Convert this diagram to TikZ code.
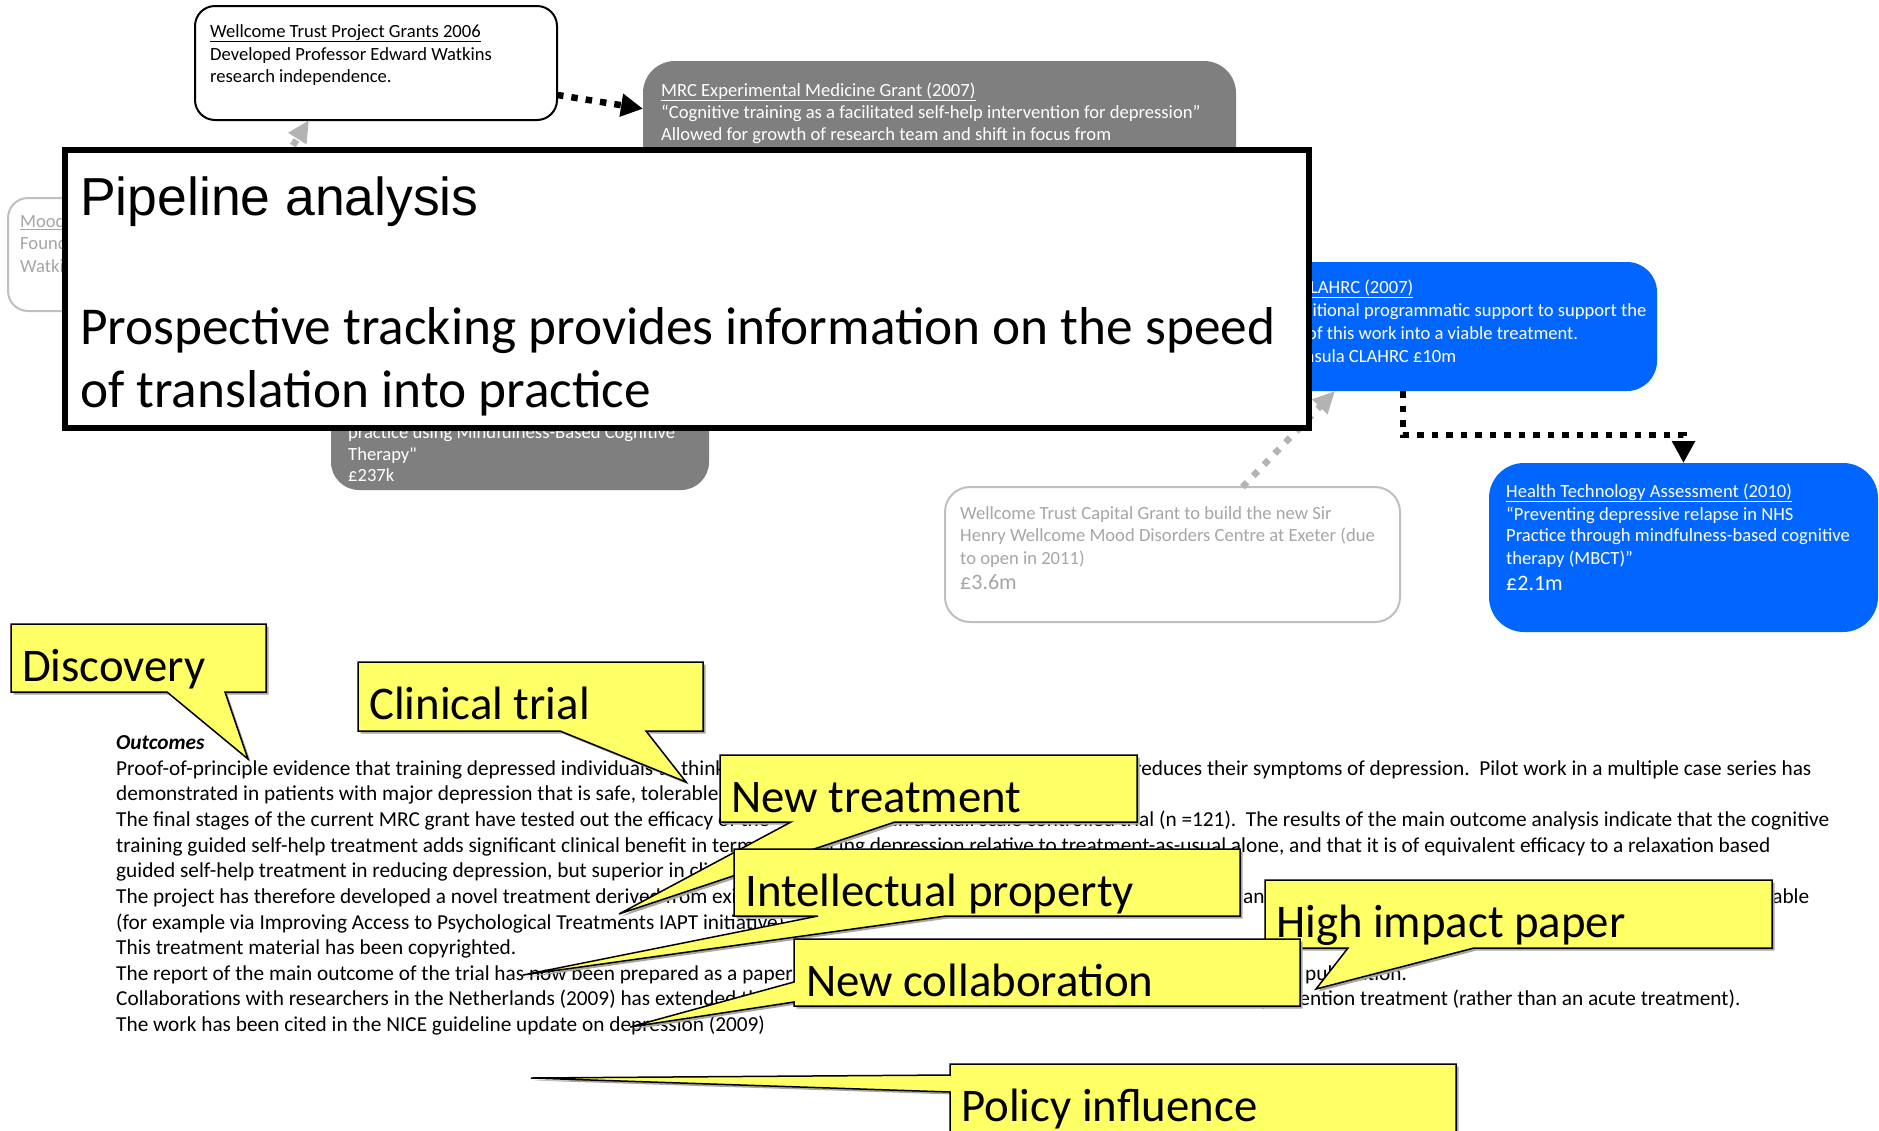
\documentclass[tikz,border=0pt]{standalone}
\usepackage{fontspec}
\setmainfont{Carlito}
\newfontfamily\arialfam{Liberation Sans}
\newfontfamily\carlitoraw{Carlito}[Ligatures=TeXOff]
\usetikzlibrary{arrows.meta,calc}
\frenchspacing
\definecolor{cyellow}{HTML}{FFFF66}
\definecolor{mrcgray}{HTML}{7F7F7F}
\definecolor{cblue}{HTML}{0066FF}
\definecolor{lgborder}{HTML}{BFBFBF}
\definecolor{lgtext}{HTML}{A6A6A6}
\definecolor{arrgray}{HTML}{B3B3B3}
\newcommand{\ycallbottom}[8]{%
  \path[fill=black!35,shift={(2.5,2.5)}] (#1,#2) -- (#3,#2) -- (#3,#4) -- (#6,#4) -- (#7,#8) -- (#5,#4) -- (#1,#4) -- cycle;
  \path[callout] (#1,#2) -- (#3,#2) -- (#3,#4) -- (#6,#4) -- (#7,#8) -- (#5,#4) -- (#1,#4) -- cycle;}
\newcommand{\ycallleft}[8]{%
  \path[fill=black!35,shift={(2.5,2.5)}] (#1,#2) -- (#3,#2) -- (#3,#4) -- (#1,#4) -- (#1,#6) -- (#7,#8) -- (#1,#5) -- cycle;
  \path[callout] (#1,#2) -- (#3,#2) -- (#3,#4) -- (#1,#4) -- (#1,#6) -- (#7,#8) -- (#1,#5) -- cycle;}
\begin{document}
\begin{tikzpicture}[x=1pt,y=-1pt,
  rbox/.style={rectangle,inner sep=0pt,outer sep=0pt},
  boxtxt/.style={anchor=base west,inner sep=0pt,font=\fontsize{18.6}{22}\selectfont},
  bigtxt/.style={anchor=base west,inner sep=0pt,font=\fontsize{22}{26}\selectfont},
  outtxt/.style={anchor=base west,inner sep=0pt,font=\fontsize{21.3}{25}\selectfont},
  calltxt/.style={anchor=base west,inner sep=0pt,font=\fontsize{46.8}{56}\selectfont},
  callout/.style={fill=cyellow,draw=black,line width=1.5pt},
  blackdots/.style={draw=black,line width=6.5pt,dash pattern=on 6.5pt off 8pt,-{Triangle[length=22pt,width=22pt]}},
  graydots/.style={draw=arrgray,line width=6.5pt,dash pattern=on 6.5pt off 9pt,-{Triangle[length=22pt,width=20pt]}}]
\useasboundingbox (0,0) rectangle (1879,1130);
\clip (0,0) rectangle (1879,1130);
\fill[white] (0,0) rectangle (1879,1130);

% ---- boxes ----
\node[rbox,draw=lgborder,line width=2pt,rounded corners=20pt,minimum width=322pt,minimum height=113pt] (mood) at (169,254.5) {};
\node[rbox,draw=black,line width=2pt,fill=white,rounded corners=20pt,minimum width=362pt,minimum height=114pt] (wt) at (376,63) {};
\node[rbox,fill=mrcgray,rounded corners=32pt,minimum width=593pt,minimum height=159pt] (mrc) at (939.5,140.5) {};
\node[rbox,fill=mrcgray,rounded corners=28pt,minimum width=378pt,minimum height=160pt] (lg) at (520,410) {};
\node[rbox,fill=cblue,rounded corners=30pt,minimum width=410pt,minimum height=129pt] (cl) at (1452,326.5) {};
\node[rbox,fill=cblue,rounded corners=35pt,minimum width=389pt,minimum height=169pt] (hta) at (1683.5,547.5) {};
\node[rbox,draw=lgborder,line width=2pt,fill=white,rounded corners=25pt,minimum width=455pt,minimum height=135pt] (cap) at (1172.5,554.5) {};

% ---- box texts ----
\node[boxtxt,text=lgtext] (md1) at (20,227.6) {\underline{Mood}};
\node[boxtxt,text=lgtext] (md2) at (20,249) {Found};
\node[boxtxt,text=lgtext] (md3) at (20,272) {Watkins};

\node[boxtxt] (wt1) at (210,37) {\underline{Wellcome Trust Project Grants 2006}};
\node[boxtxt] (wt2) at (210,60) {Developed Professor Edward Watkins};
\node[boxtxt] (wt3) at (210,82) {research independence.};

\node[boxtxt,text=white] (m1) at (661,96) {\underline{MRC Experimental Medicine Grant (2007)}};
\node[boxtxt,text=white] (m2) at (661,118.6) {“Cognitive training as a facilitated self-help intervention for depression”};
\node[boxtxt,text=white] (m3) at (661,140.5) {Allowed for growth of research team and shift in focus from};

\node[boxtxt,text=white] (lg1) at (348,438.5) {practice using Mindfulness-Based Cognitive};
\node[boxtxt,text=white] (lg2) at (348,460) {\carlitoraw Therapy"};
\node[boxtxt,text=white] (lg3) at (348,481.6) {£237k};

\node[boxtxt,text=white] (c1) at (1300,293.5) {\underline{CLAHRC (2007)}};
\node[boxtxt,text=white] (c2) at (1282,316) {Additional programmatic support to support the};
\node[boxtxt,text=white] (c3) at (1307,339) {of this work into a viable treatment.};
\node[boxtxt,text=white] (c4) at (1272,362) {Peninsula CLAHRC £10m};

\node[boxtxt,text=white] (h1) at (1506,497) {\underline{Health Technology Assessment (2010)}};
\node[boxtxt,text=white] (h2) at (1506,520) {“Preventing depressive relapse in NHS};
\node[boxtxt,text=white] (h3) at (1506,541.5) {Practice through mindfulness-based cognitive};
\node[boxtxt,text=white] (h4) at (1506,564) {therapy (MBCT)”};
\node[bigtxt,text=white] (h5) at (1506,590) {£2.1m};

\node[boxtxt,text=lgtext] (k1) at (960,519) {Wellcome Trust Capital Grant to build the new Sir};
\node[boxtxt,text=lgtext] (k2) at (960,541.5) {Henry Wellcome Mood Disorders Centre at Exeter (due};
\node[boxtxt,text=lgtext] (k3) at (960,564) {to open in 2011)};
\node[bigtxt,text=lgtext] (k4) at (960,589) {£3.6m};

% ---- connectors ----
\draw[blackdots] ($(wt.north east)!0.78!(wt.south east)$) -- ($(mrc.north west)!0.3!(mrc.south west)$);
\draw[graydots] ([xshift=91pt]mood.north) -- ([xshift=114pt]wt.south west);
\draw[graydots] ([xshift=70pt]cap.north) -- ([xshift=88pt]cl.south west);
\draw[blackdots] ([xshift=-49pt]cl.south) -- ++(0,44) -| (hta.north);

% ---- pipeline box ----
\node[rbox,draw=black,line width=5.5pt,fill=white,minimum width=1244pt,minimum height=278pt] (pipe) at (687,289) {};
\node[anchor=base west,inner sep=0pt,font=\arialfam\fontsize{53.5}{64}\selectfont] (pt1) at (80,215) {Pipeline analysis};
\node[anchor=base west,inner sep=0pt,font=\fontsize{53.3}{65}\selectfont] (pt2) at (80,344) {Prospective tracking provides information on the speed};
\node[anchor=base west,inner sep=0pt,font=\fontsize{53.3}{65}\selectfont] (pt3) at (80,407) {of translation into practice};

% ---- outcomes text ----
\node[outtxt,font=\fontsize{21.3}{25}\selectfont\bfseries\itshape] (oh) at (116,749) {Outcomes};
\node[outtxt] (o1a) at (116,775) {Proof-of-principle evidence that training depressed individuals to think};
\node[outtxt] (o1b) at (1134,775) {reduces their symptoms of depression.\ \ Pilot work in a multiple case series has};
\node[outtxt] (o2) at (116,800.7) {demonstrated in patients with major depression that is safe, tolerable};
\node[outtxt] (o3a) at (116,826.3) {The final stages of the current MRC grant have tested out the efficacy of the};
\node[outtxt] (o3b) at (893,826.3) {in a small scale controlled trial (n =121).\ \ The results of the main outcome analysis indicate that the cognitive};
\node[outtxt] (o4) at (116,852) {training guided self-help treatment adds significant clinical benefit in terms of reducing depression relative to treatment-as-usual alone, and that it is of equivalent efficacy to a relaxation based};
\node[outtxt] (o5) at (116,877.6) {guided self-help treatment in reducing depression, but superior in clinical};
\node[outtxt] (o6a) at (116,903.3) {The project has therefore developed a novel treatment derived from existing};
\node[outtxt] (o6b) at (1243,903.3) {and};
\node[outtxt] (o6c) at (1733,903.3) {available};
\node[outtxt] (o7) at (116,929) {(for example via Improving Access to Psychological Treatments IAPT initiative)};
\node[outtxt] (o8) at (116,954.6) {This treatment material has been copyrighted.};
\node[outtxt] (o9a) at (116,980.2) {The report of the main outcome of the trial has now been prepared as a paper};
\node[outtxt] (o9b) at (1305,980.2) {publication.};
\node[outtxt] (o10a) at (116,1005.9) {Collaborations with researchers in the Netherlands (2009) has extended this work};
\node[outtxt] (o10b) at (1261,1005.9) {prevention treatment (rather than an acute treatment).};
\node[outtxt] (o11) at (116,1031.5) {The work has been cited in the NICE guideline update on depression (2009)};

% ---- callouts ----
\ycallbottom{11}{624}{266}{692}{167}{225}{248}{759}
\node[calltxt] (t1) at (22,681) {Discovery};
\ycallbottom{358}{662}{703}{731}{560}{646}{686}{782}
\node[calltxt] (t2) at (369,719) {Clinical trial};
\ycallbottom{720}{755}{1137}{822}{791}{895}{619}{914}
\node[calltxt] (t3) at (731,812) {New treatment};
\ycallbottom{734}{849}{1240}{916}{818}{946}{523}{975}
\node[calltxt] (t4) at (745,906) {Intellectual property};
\ycallbottom{1265}{880}{1772}{948}{1348}{1474}{1316}{989}
\node[calltxt] (t5) at (1276,937) {High impact paper};
\ycallleft{794}{939}{1300}{1006}{982}{1002}{630}{1027}
\node[calltxt] (t6) at (806,996) {New collaboration};
\ycallleft{950}{1064}{1456}{1160}{1075}{1092}{531}{1078}
\node[calltxt] (t7) at (961,1121) {Policy influence};
\end{tikzpicture}
\end{document}
